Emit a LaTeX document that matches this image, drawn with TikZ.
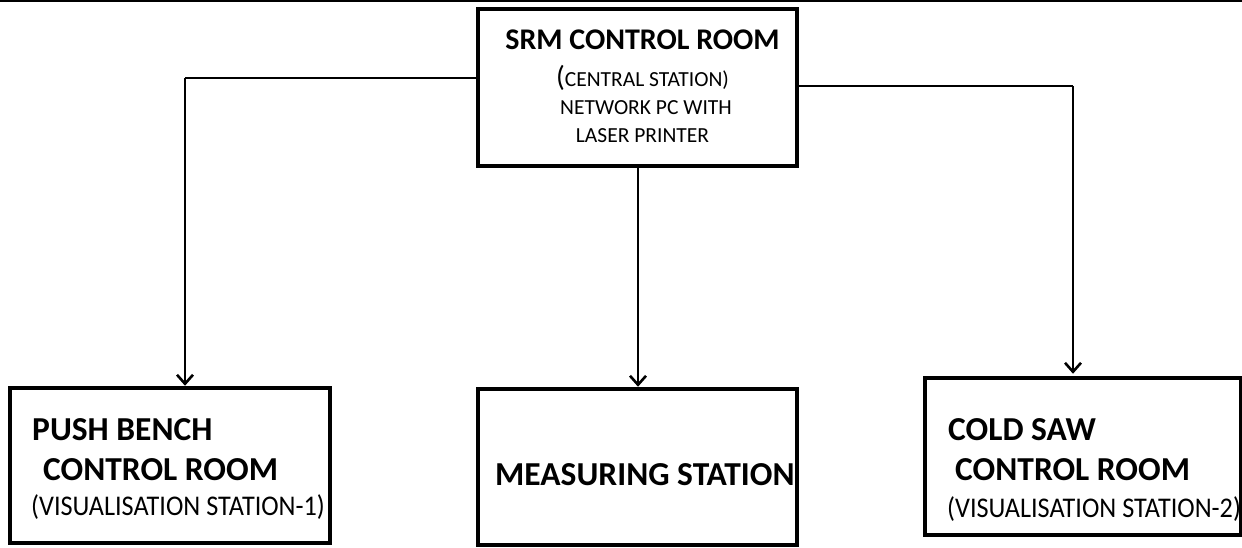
\documentclass[tikz,border=0pt]{standalone}
\usepackage{fontspec}
\usepackage{graphicx}
\setmainfont{Carlito}
\usetikzlibrary{arrows.meta}
\newcommand{\vistext}[1]{\scalebox{0.92}[1]{\fontsize{28.5}{30}\selectfont #1}}
\begin{document}
\begin{tikzpicture}[x=1pt,y=-1pt,
  box/.style={draw=black, line width=4.5pt, fill=white, inner sep=0pt},
  conn/.style={draw=black, line width=2.6pt},
  arr/.style={conn, -{Straight Barb[length=9pt,width=16pt,line width=2.6pt]}},
  txt/.style={inner sep=0pt, anchor=base west},
  ctxt/.style={inner sep=0pt, anchor=base},
  titlefont/.style={font=\fontsize{30}{32}\selectfont\bfseries},
  subfont/.style={font=\fontsize{21.5}{23}\selectfont},
  bigfont/.style={font=\fontsize{33.5}{35}\selectfont\bfseries}
]
\useasboundingbox (0,0) rectangle (1242,548);
\fill[white] (0,0) rectangle (1242,548);
% top rule
\draw[line width=2pt] (0,1) -- (1242,1);

% boxes
\node[box, minimum width=319pt, minimum height=157pt] (top) at (637.5,87.5) {};
\node[box, minimum width=320pt, minimum height=155pt] (pb) at (170,465.5) {};
\node[box, minimum width=319pt, minimum height=156pt] (ms) at (637.5,467) {};
\node[box, minimum width=316pt, minimum height=157pt] (cs) at (1083,456.5) {};

% connectors
\coordinate (lc) at (185,78);
\coordinate (rc) at (1073,86);
\draw[conn] (top.west |- lc) -- (lc);
\draw[arr] (lc) -- (lc |- pb.north);
\draw[conn] (top.east |- rc) -- (rc);
\draw[arr] (rc) -- ([yshift=2pt]rc |- cs.north);
\draw[arr] (top.south -| 638,0) -- (ms.north -| 638,0);

% top box text
\node[ctxt, titlefont] (t1) at (642.5,50) {SRM CONTROL ROOM};
\node[ctxt, subfont] (t2) at (642.5,87) {{\fontsize{29}{31}\selectfont(}CENTRAL STATION)};
\node[ctxt, subfont] (t3) at (646,115) {NETWORK PC WITH};
\node[ctxt, subfont] (t4) at (642.5,143) {LASER PRINTER};

% push bench
\node[txt, bigfont] (p1) at (32,440) {PUSH BENCH};
\node[txt, bigfont] (p2) at (43,480) {CONTROL ROOM};
\node[txt] (p3) at (31,515) {\vistext{(VISUALISATION STATION-1)}};

% measuring
\node[txt, bigfont] (m1) at (495,485) {MEASURING STATION};

% cold saw
\node[txt, bigfont] (c1) at (948,440) {COLD SAW};
\node[txt, bigfont] (c2) at (955,480) {CONTROL ROOM};
\node[txt] (c3) at (947,517) {\vistext{(VISUALISATION STATION-2)}};
\end{tikzpicture}
\end{document}
